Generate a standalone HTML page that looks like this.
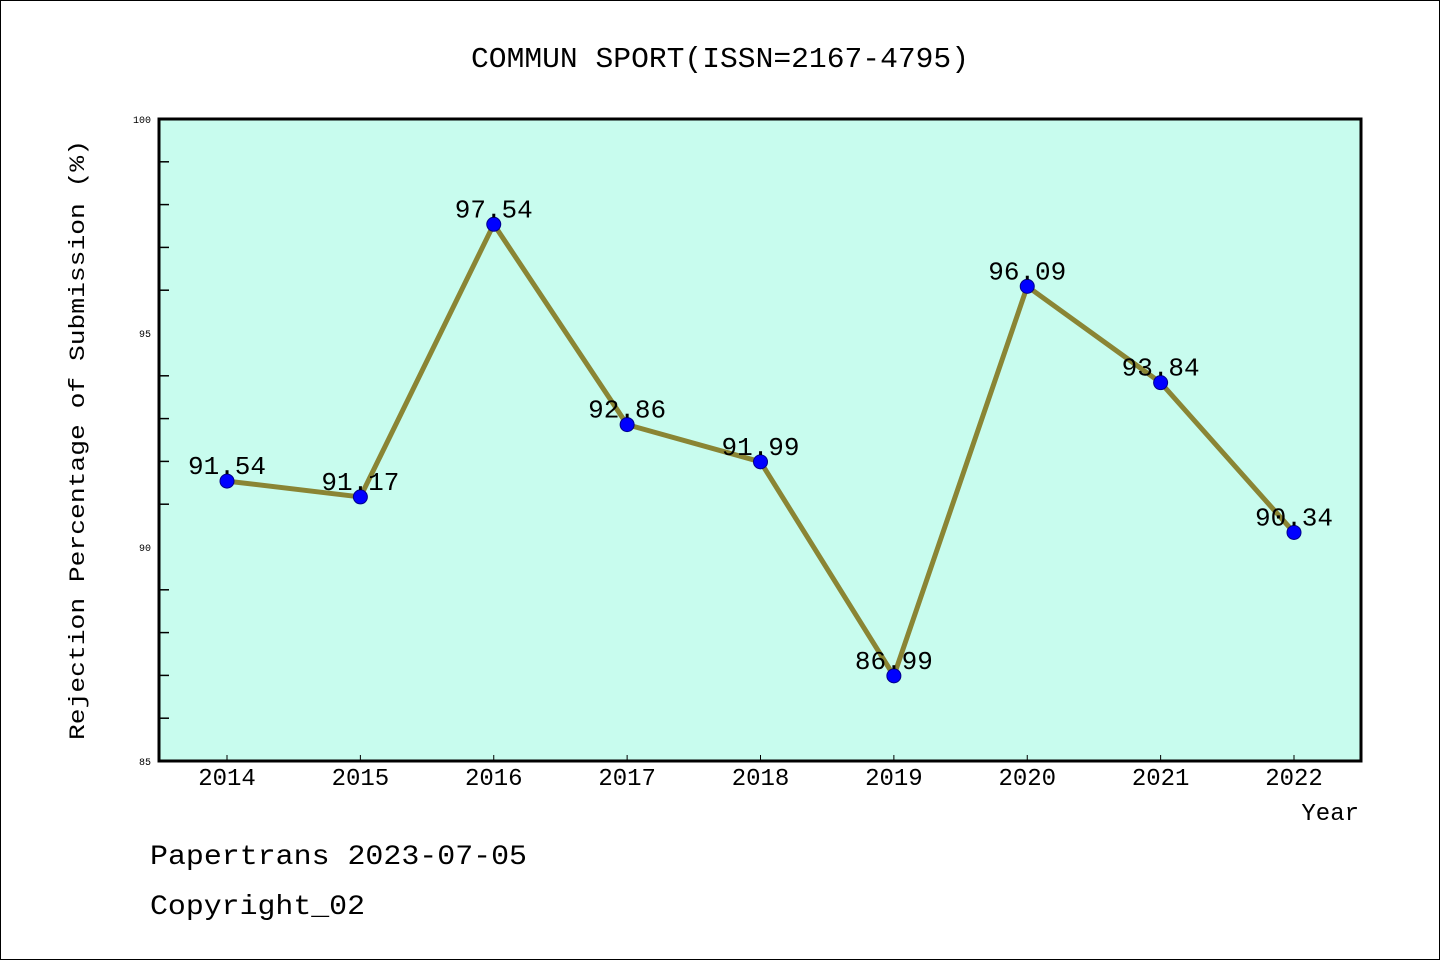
<!DOCTYPE html>
<html><head><meta charset="utf-8"><style>
html,body{margin:0;padding:0;background:#fff;}
svg{display:block;}
text{font-family:"Liberation Mono","WenQuanYi Zen Hei",monospace;fill:#000;}
</style></head><body>
<svg id="chart" width="1440" height="960" viewBox="0 0 1440 960">
<rect x="0.5" y="0.5" width="1439" height="959" fill="#fff" stroke="#000" stroke-width="1"/>
<text x="720" y="67" font-size="29" text-anchor="middle" textLength="498" lengthAdjust="spacingAndGlyphs">COMMUN SPORT(ISSN=2167-4795)</text>
<rect x="159" y="119" width="1202" height="642" fill="#c8fcee"/>
<g id="axes"></g>
<g id="marks"></g>
<rect x="159" y="119" width="1202" height="642" fill="none" stroke="#000" stroke-width="3"/>
<text transform="translate(84,440) rotate(-90)" font-size="22" text-anchor="middle" textLength="600" lengthAdjust="spacingAndGlyphs">Rejection Percentage of Submission (%)</text>
<text x="1359" y="820" font-size="24" text-anchor="end">Year</text>
<text x="150" y="864" font-size="28" textLength="377" lengthAdjust="spacingAndGlyphs">Papertrans 2023-07-05</text>
<text x="150" y="914" font-size="28" textLength="215" lengthAdjust="spacingAndGlyphs">Copyright_02</text>
</svg>
<script>
const years = ["2014","2015","2016","2017","2018","2019","2020","2021","2022"];
const values = [91.54,91.17,97.54,92.86,91.99,86.99,96.09,93.84,90.34];
const yTicks = [85,90,95,100];
const yMinor = [86,87,88,89,91,92,93,94,96,97,98,99];
const NS="http://www.w3.org/2000/svg";
const yMin=85,yMax=100,plotTop=119,plotBot=761;
function yS(v){return plotBot-(v-yMin)/(yMax-yMin)*(plotBot-plotTop);}
function xS(i){return 227+i*(1294-227)/(years.length-1);}
function mk(tag,attrs,parent){const e=document.createElementNS(NS,tag);for(const k in attrs)e.setAttribute(k,attrs[k]);parent.appendChild(e);return e;}
const axes=document.getElementById('axes'),marks=document.getElementById('marks');
yTicks.forEach(v=>{
  const t=mk('text',{x:151,y:yS(v)+4,'font-size':10,'text-anchor':'end'},axes);
  
  
  t.textContent=v;
});
yMinor.forEach(v=>{
  const l=mk('line',{x1:159,x2:169,y1:yS(v),y2:yS(v),stroke:'#000','stroke-width':1.5},axes);
  
  
});
years.forEach((y,i)=>{
  const l=mk('line',{x1:xS(i),x2:xS(i),y1:plotBot-6,y2:plotBot,stroke:'#000','stroke-width':1},axes);
  
  
  const t=mk('text',{x:xS(i),y:785,'font-size':24,'text-anchor':'middle'},axes);
  
  
  t.textContent=y;
});
const pts=values.map((v,i)=>xS(i)+','+yS(v)).join(' ');
const line=mk('polyline',{points:pts,fill:'none',stroke:'#8a8534','stroke-width':5,'stroke-linejoin':'round'},marks);


values.forEach((v,i)=>{
  const c=mk('circle',{cx:xS(i),cy:yS(v),r:7,fill:'#0000ff',stroke:'#00008b','stroke-width':1},marks);
  
  
  const t=mk('text',{x:xS(i),y:yS(v)-7,'font-size':26,'text-anchor':'middle'},marks);
  
  
  t.textContent=v.toFixed(2);
});
</script>
</body></html>
